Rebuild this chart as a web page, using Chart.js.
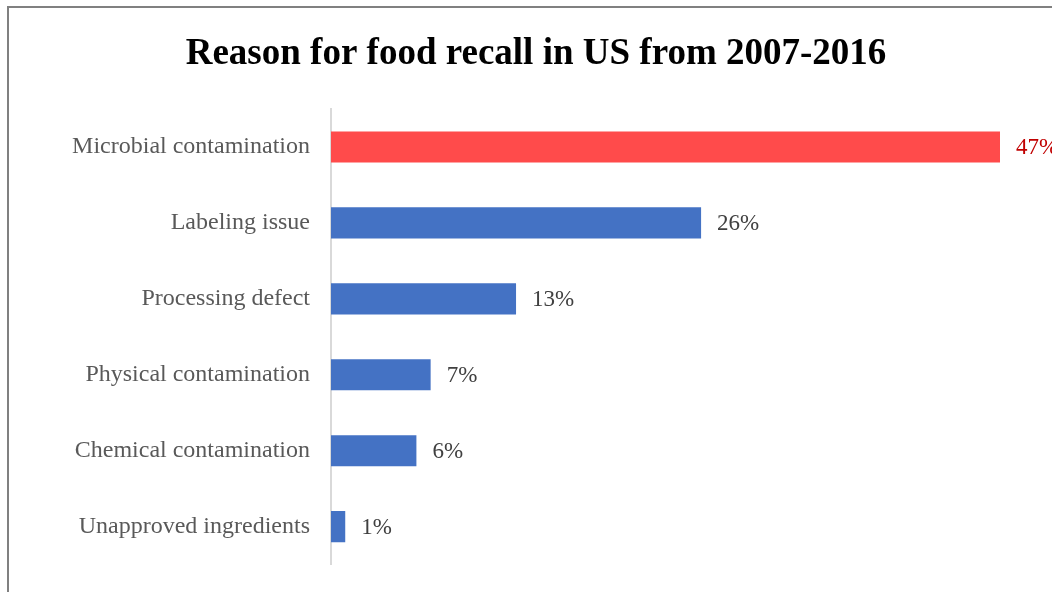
<!DOCTYPE html>
<html>
<head>
<meta charset="utf-8">
<script src="https://cdn.jsdelivr.net/npm/chart.js@4"></script>
<style>
  html, body { margin: 0; padding: 0; background: #fff; overflow: hidden; }
  #wrap { position: relative; width: 1052px; height: 592px; }
  #frame { position: absolute; left: 7px; top: 6px; width: 1100px; height: 700px; border: 2px solid #808080; }
  #chart { position: absolute; left: 0; top: 0; }
</style>
</head>
<body>
<div id="wrap">
  <div id="frame"></div>
  <canvas id="chart" width="1052" height="592"></canvas>
</div>
<script>
// data
var reasons = ['Microbial contamination', 'Labeling issue', 'Processing defect',
               'Physical contamination', 'Chemical contamination', 'Unapproved ingredients'];
var shares = [47, 26, 13, 7, 6, 1];
var titleText = 'Reason for food recall in US from 2007-2016';

var barColors = shares.map(function (v, i) { return i === 0 ? '#ff4b4b' : '#4472c4'; });
var labelColors = shares.map(function (v, i) { return i === 0 ? '#c00000' : '#404040'; });

// title + value labels drawn by hand
var extras = {
  id: 'extras',
  afterDatasetsDraw: function (chart) {
    var ctx = chart.ctx;
    ctx.save();
    ctx.fillStyle = '#000';
    ctx.font = 'bold 37px "Liberation Serif", "Times New Roman", serif';
    ctx.textAlign = 'center';
    ctx.textBaseline = 'alphabetic';
    ctx.fillText(titleText, 536, 64);

    ctx.font = '23px "Liberation Serif", "Times New Roman", serif';
    ctx.textAlign = 'left';
    ctx.textBaseline = 'middle';
    chart.getDatasetMeta(0).data.forEach(function (bar, i) {
      ctx.fillStyle = labelColors[i];
      ctx.fillText(shares[i] + '%', bar.x + 16, bar.y + 1);
    });
    ctx.restore();
  }
};

var ctx = document.getElementById('chart').getContext('2d');
var chart = new Chart(ctx, {
  type: 'bar',
  data: {
    labels: reasons,
    datasets: [{ data: shares, backgroundColor: barColors, barPercentage: 0.41, categoryPercentage: 1 }]
  },
  options: {
    indexAxis: 'y',
    responsive: false,
    animation: false,
    layout: { padding: { top: 109, bottom: 18, right: 52, left: 0 } },
    plugins: { legend: { display: false }, tooltip: { enabled: false } },
    scales: {
      x: { display: false, min: 0, max: 47 },
      y: {
        grid: { display: false },
        border: { display: true, color: '#d9d9d9', width: 2 },
        afterFit: function (s) { s.width = 331; },
        ticks: {
          padding: 13,
          color: '#595959',
          font: { family: '"Liberation Serif", "Times New Roman", serif', size: 24 }
        }
      }
    }
  },
  plugins: [extras]
});
</script>
</body>
</html>
